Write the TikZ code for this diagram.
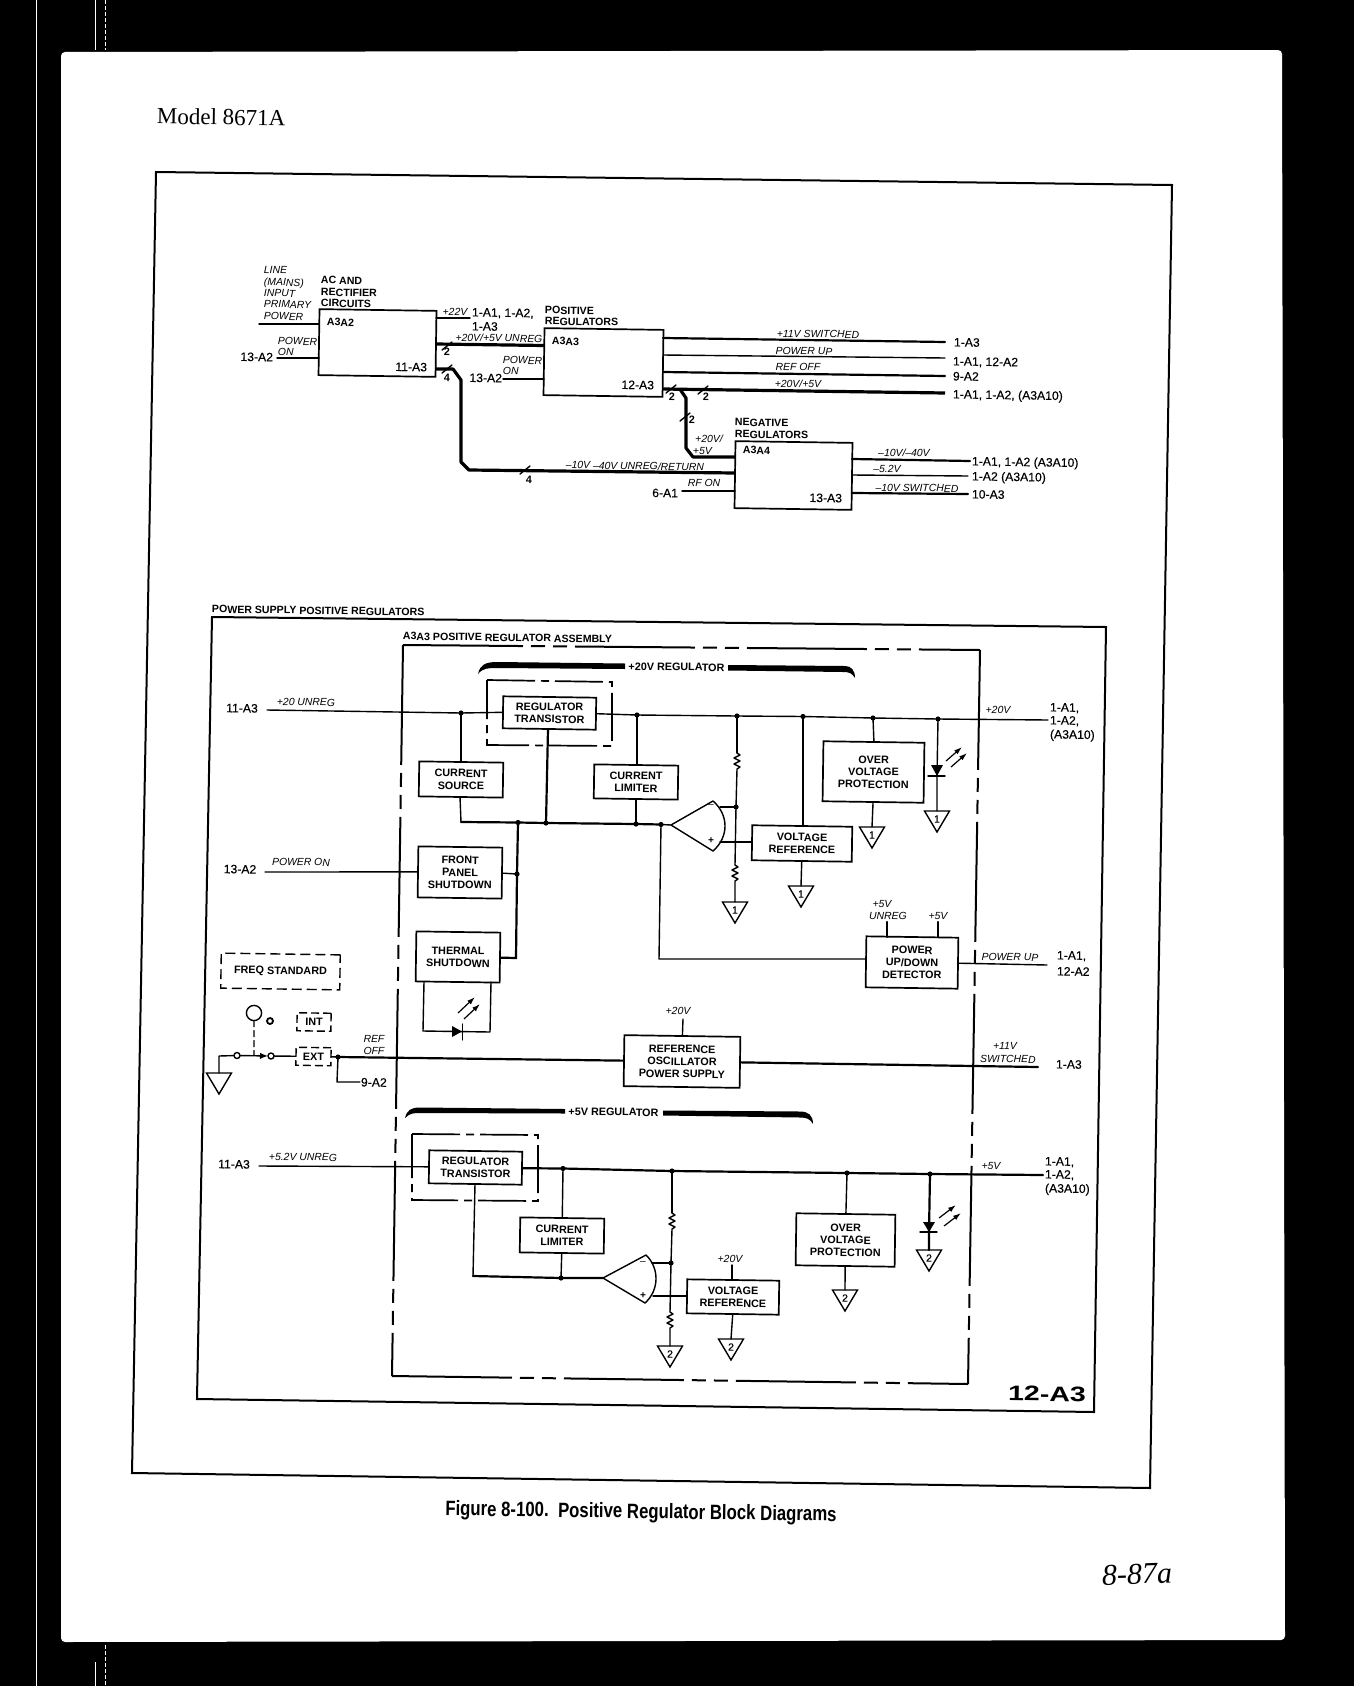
\documentclass[tikz,border=0pt]{standalone}
\usepackage{fontspec}
\usepackage{graphicx}
\setmainfont{Liberation Sans}
\newfontfamily\serfam{Liberation Serif}
\newfontfamily\medfam[FakeBold=0.3]{Liberation Sans}
\usetikzlibrary{arrows.meta,calc}
\newcommand\mybox[6]{%
  \pgfmathsetmacro\bw{(#4-#2)*0.5}\pgfmathsetmacro\bh{(#5-#3)*0.5}%
  \pgfmathsetmacro\bcx{(#2+#4)/2}\pgfmathsetmacro\bcy{(#3+#5)/2}%
  \node[box,minimum width=\bw pt,minimum height=\bh pt] (#1) at (\bcx,\bcy) {#6};}
\newcommand\jn[3]{\coordinate (#1) at (#2,#3); \fill (#1) circle (2.6);}
\newcommand\gnd[4]{\coordinate (#1) at (#2,#3);
  \draw[wire,line join=miter] ($(#1)+(-12.5,0)$) -- ($(#1)+(12.5,0)$) -- ($(#1)+(0,21)$) -- cycle;
  \node[gtext] (#1t) at ($(#1)+(0,8)$) {#4};}
\newcommand\res[2]{\draw[wire] (#1) -- ++(3,2) -- ++(-6,3) -- ++(6,3) -- ++(-6,3) -- ++(6,3) -- ++(-3,2) -- (#2);}
\newcommand\tickm[2]{\draw[wire] (#1-5,#2+4) -- (#1+5,#2-4);}
\begin{document}
\begin{tikzpicture}[x=0.5pt,y=-0.5pt,
  every node/.append style={rotate=-0.85,inner sep=0pt,outer sep=0pt},
  wire/.style={line width=0.7pt,line cap=round,line join=round},
  bus/.style={line width=1.6pt,line cap=butt,line join=round},
  mid/.style={line width=1.1pt,line cap=round},
  frame/.style={line width=1pt,line join=miter},
  box/.style={draw,line width=0.85pt,fill=white,align=center,font=\fontsize{5.4}{6.2}\selectfont\bfseries},
  gtext/.style={font=\fontsize{5.2}{6}\selectfont\medfam},
  heads/.style={font=\fontsize{5.3}{6}\selectfont\bfseries,text height=3.8pt,text depth=0pt},
  hw/.style={heads,anchor=west},
  itf/.style={font=\fontsize{5.2}{6}\selectfont\itshape,text height=3.7pt,text depth=0pt},
  itw/.style={itf,anchor=west},
  itc/.style={itf},
  rf/.style={font=\fontsize{6.1}{7}\selectfont\medfam,text height=4.4pt,text depth=0pt},
  rw/.style={rf,anchor=west},
  re/.style={rf,anchor=east},
  rc/.style={rf},
  pn/.style={font=\fontsize{5.4}{6}\selectfont\bfseries},
  long/.style={line width=1pt,dash pattern=on 60pt off 4pt on 7pt off 4pt on 7pt off 4pt},
  dashb/.style={line width=0.85pt,dash pattern=on 24pt off 3pt on 4pt off 3pt},
  dashs/.style={line width=0.7pt,dash pattern=on 5pt off 2.5pt},
  dashx/.style={line width=0.7pt,dash pattern=on 4pt off 2pt},
  light/.style={line width=0.6pt,-{Latex[length=4pt,width=2.6pt]}},
]
\useasboundingbox (0,0) rectangle (1354,1686);
% scanned page
\fill[black] (0,0) rectangle (1354,1686);
\fill[white,rounded corners=2pt] (61,52) -- (1282,50) -- (1285,1640) -- (61,1642) -- cycle;
\draw[white,line width=0.3pt] (36,0) -- (36,1686);
\draw[white,line width=0.5pt] (95,0) -- (95,50) (95,1662) -- (95,1686);
\draw[white,line width=0.3pt,dash pattern=on 2pt off 1pt] (105.5,0) -- (105.5,50) (105.5,1645) -- (105.5,1686);

\node[anchor=west,font=\fontsize{11.5}{13}\selectfont\serfam] (model) at (157,116) {Model 8671A};
\node[font=\fontsize{10.4}{12}\selectfont\bfseries] (caption) at (641,1513) {\scalebox{0.806}[1]{Figure 8-100.\ \ Positive Regulator Block Diagrams}};
\node[font=\fontsize{15}{16}\selectfont\serfam\itshape,rotate=3] (page) at (1137,1574) {8-87a};
\draw[frame] (156,172) -- (1172,185) -- (1150,1488) -- (132,1473) -- cycle;

% ---------- upper diagram
\mybox{aca}{319}{310}{436}{376}{}
\mybox{posr}{544}{329}{663}{396}{}
\mybox{negr}{735}{442}{852}{509}{}
\foreach \n/\x/\y/\t in {tl1/264/270/LINE,tl2/264/282/(MAINS),tl3/264/293/INPUT,tl4/264/304/PRIMARY,tl5/264/316/POWER,tl6/278/341/POWER,tl7/278/352/ON,tl8/503/360/POWER,tl9/503/371/ON,tl10/693/451/+5V}
  \node[itw] (\n) at (\x,\y) {\t};
\foreach \n/\x/\y/\t in {h1/321/280/AC AND,h2/321/292/RECTIFIER,h3/321/303/CIRCUITS,h4/327/322/A3A2,h5/545/310/POSITIVE,h6/545/321/REGULATORS,h7/552/341/A3A3,h8/735/422/NEGATIVE,h9/735/434/REGULATORS,h10/743/450/A3A4}
  \node[hw] (\n) at (\x,\y) {\t};
\node[itc] (c1) at (455,312) {+22V};
\node[itc] (c2) at (499,338) {+20V/+5V UNREG};
\node[itc] (c3) at (635,466) {--10V --40V UNREG/RETURN};
\node[itc] (c4) at (704,483) {RF ON};
\node[itc] (c5) at (818,334) {+11V SWITCHED};
\node[itc] (c6) at (804,351) {POWER UP};
\node[itc] (c7) at (798,367) {REF OFF};
\node[itc] (c8) at (798,384) {+20V/+5V};
\node[itc] (c9) at (709,439) {+20V/};
\node[itc] (c10) at (904,453) {--10V/--40V};
\node[itc] (c11) at (887,469) {--5.2V};
\node[itc] (c12) at (917,488) {--10V SWITCHED};
\node[re] (r1) at (273,357) {13-A2};
\node[rw] (r2) at (472,312) {1-A1, 1-A2,};
\node[rw] (r3) at (472,326) {1-A3};
\node[re] (r4) at (427,367) {11-A3};
\node[re] (r5) at (502,378) {13-A2};
\node[re] (r6) at (654,385) {12-A3};
\node[rw] (r7) at (954,342) {1-A3};
\node[rw] (r8) at (953,361) {1-A1, 12-A2};
\node[rw] (r9) at (953,376) {9-A2};
\node[rw] (r10) at (953,394) {1-A1, 1-A2, (A3A10)};
\node[re] (r11) at (678,493) {6-A1};
\node[rw] (r12) at (972,461) {1-A1, 1-A2 (A3A10)};
\node[rw] (r13) at (972,476) {1-A2 (A3A10)};
\node[rw] (r14) at (972,494) {10-A3};
\node[re] (r15) at (842,498) {13-A3};
\foreach \n/\x/\y/\t in {p1/447/352/2,p2/447/378/4,p3/529/480/4,p4/672/397/2,p5/706/397/2,p6/692/420/2}
  \node[pn] (\n) at (\x,\y) {\t};

\coordinate (pwr) at (259,324); \draw[wire] (pwr) -- (pwr -| aca.west);
\coordinate (ona) at (277,358); \draw[wire] (ona) -- (ona -| aca.west);
\coordinate (v22a) at (436,318); \coordinate (v22b) at (470,318); \draw[wire] (v22a) -- (v22b);
\coordinate (busa) at (436,344); \coordinate (busb) at (544,345.5); \draw[bus] (busa) -- (busb);
\coordinate (f1) at (436,369); \coordinate (f2) at (453,369); \coordinate (f3) at (461,380);
\coordinate (f4) at (461,462); \coordinate (f5) at (469,470); \coordinate (f6) at (735,473);
\draw[bus] (f1) -- (f2) -- (f3) -- (f4) -- (f5) -- (f6);
\coordinate (onb) at (503,379); \draw[wire] (onb) -- (onb -| posr.west);
\coordinate (s1) at (663,338); \coordinate (t1) at (945,342); \draw[mid] (s1) -- (t1);
\coordinate (s2) at (663,355); \coordinate (t2) at (945,358); \draw[wire] (s2) -- (t2);
\coordinate (s3) at (663,372); \coordinate (t3) at (945,376); \draw[mid] (s3) -- (t3);
\coordinate (s4) at (663,389); \coordinate (t4) at (945,393); \draw[bus] (s4) -- (t4);
\coordinate (b1) at (680,389.3); \coordinate (b2) at (686,398); \coordinate (b3) at (686,448);
\coordinate (b4) at (693,457); \coordinate (b5) at (735,457);
\draw[bus] (b1) -- (b2) -- (b3) -- (b4) -- (b5);
\coordinate (rfon) at (682,491); \draw[wire] (rfon) -- (rfon -| negr.west);
\coordinate (n1) at (852,459); \coordinate (m1) at (970,461); \draw[mid] (n1) -- (m1);
\coordinate (n2) at (852,475); \coordinate (m2) at (968,476); \draw[wire] (n2) -- (m2);
\coordinate (n3) at (852,493); \coordinate (m3) at (968,494); \draw[mid] (n3) -- (m3);
\tickm{447}{346}\tickm{447}{369}\tickm{525}{470}\tickm{671}{389}\tickm{703}{390}\tickm{685}{417}

% ---------- lower diagram
\draw[frame] (212,617) -- (1106,627) -- (1094,1412) -- (197,1399) -- cycle;
\node[hw] (title1) at (212,609) {POWER SUPPLY POSITIVE REGULATORS};
\node[hw] (title2) at (403,636) {A3A3 POSITIVE REGULATOR ASSEMBLY};
\node[font=\fontsize{10.5}{12}\selectfont\bfseries] (plate) at (1047,1394) {\scalebox{1.36}[1]{12-A3}};
\coordinate (asmA) at (403,645); \coordinate (asmB) at (980,650);
\coordinate (asmC) at (968,1384); \coordinate (asmD) at (392,1376);
\draw[long] (asmA) -- (asmB);\draw[long] (asmB) -- (asmC);\draw[long] (asmD) -- (asmC);\draw[long] (asmA) -- (asmD);

% brackets
\fill (478,674) .. controls (480,665) and (485,662) .. (497,662) -- (625,663.5) -- (625,669) -- (497,668) .. controls (488,668) and (483,668) .. (478,674) -- cycle;
\fill (728,665) -- (845,666) .. controls (851,666) and (855,670) .. (855,678) .. controls (852,673) and (849,672) .. (843,672) -- (728,670.5) -- cycle;
\fill (405,1118) .. controls (407,1110) and (411,1107.5) .. (420,1107.5) -- (565,1109) -- (565,1113.5) -- (420,1113) .. controls (414,1113) and (410,1113) .. (405,1118) -- cycle;
\fill (663,1110.5) -- (800,1111.5) .. controls (808,1111.5) and (813,1115) .. (813,1124) .. controls (810,1119) and (807,1117.5) .. (800,1117.5) -- (663,1115.5) -- cycle;
\node[pn] (brk1) at (676.5,667) {+20V REGULATOR};
\node[pn] (brk2) at (613.5,1112) {+5V REGULATOR};

% boxes
\draw[dashb] (487,680) -- (612,682) -- (612,746) -- (487,745) -- cycle;
\draw[dashb] (412,1134) -- (538,1135) -- (538,1201) -- (412,1200) -- cycle;
\mybox{rt1}{503}{697}{596}{729}{REGULATOR\\TRANSISTOR}
\mybox{cs}{419}{762}{503}{797}{CURRENT\\SOURCE}
\mybox{cl1}{594}{765}{678}{799}{CURRENT\\LIMITER}
\mybox{fp}{418}{847}{502}{898}{FRONT\\PANEL\\SHUTDOWN}
\mybox{ts}{416}{932}{500}{982}{THERMAL\\SHUTDOWN}
\mybox{vr1}{752}{826}{852}{861}{VOLTAGE\\REFERENCE}
\mybox{ov1}{823}{742}{924}{802}{OVER\\VOLTAGE\\PROTECTION}
\mybox{pud}{866}{937}{958}{988}{POWER\\UP/DOWN\\DETECTOR}
\mybox{ro}{624}{1036}{740}{1087}{REFERENCE\\OSCILLATOR\\POWER SUPPLY}
\mybox{rt2}{429}{1151}{522}{1184}{REGULATOR\\TRANSISTOR}
\mybox{cl2}{520}{1218}{604}{1253}{CURRENT\\LIMITER}
\mybox{vr2}{687}{1280}{779}{1314}{VOLTAGE\\REFERENCE}
\mybox{ov2}{796}{1214}{895}{1266}{OVER\\VOLTAGE\\PROTECTION}

% labels
\node[rc] (l1) at (242,708) {11-A3};
\node[itc] (l2) at (306,702) {+20 UNREG};
\node[rc] (l3) at (240,869) {13-A2};
\node[itc] (l4) at (301,862) {POWER ON};
\node[itc] (l5) at (998,710) {+20V};
\node[rw] (l6) at (1050,707) {1-A1,};
\node[rw] (l7) at (1050,720) {1-A2,};
\node[rw] (l8) at (1050,734) {(A3A10)};
\node[itc] (l9) at (882,904) {+5V};
\node[itc] (l10) at (888,916) {UNREG};
\node[itc] (l11) at (938,916) {+5V};
\node[itc] (l12) at (1010,957) {POWER UP};
\node[rw] (l13) at (1057,955) {1-A1,};
\node[rw] (l14) at (1057,971) {12-A2};
\node[itc] (l15) at (374,1039) {REF};
\node[itc] (l16) at (374,1051) {OFF};
\node[rw] (l17) at (361,1082) {9-A2};
\node[itc] (l18) at (678,1011) {+20V};
\node[itc] (l19) at (1005,1046) {+11V};
\node[itc] (l20) at (1008,1059) {SWITCHED};
\node[rw] (l21) at (1056,1064) {1-A3};
\node[rc] (l22) at (234,1164) {11-A3};
\node[itc] (l23) at (303,1157) {+5.2V UNREG};
\node[itc] (l24) at (991,1166) {+5V};
\node[rw] (l25) at (1045,1161) {1-A1,};
\node[rw] (l26) at (1045,1174) {1-A2,};
\node[rw] (l27) at (1045,1188) {(A3A10)};
\node[itc] (l28) at (730,1259) {+20V};

% +20V regulator wiring
\coordinate (in20) at (267,710);
\jn{ja}{461}{713}
\draw[wire] (in20) -- (ja) -- (rt1.west);
\draw[wire] (ja) -- (ja |- cs.north);
\jn{jb}{518}{822.5}\jn{jc}{546}{823}\jn{jd}{636}{824}\jn{je}{661}{824.5}
\coordinate (jcs) at (461,822);
\coordinate (csb) at (460,797);
\draw[wire] (csb) -- (jcs);
\draw[mid] (jcs) -- (jb) -- (jc) -- (jd) -- (je);
\coordinate (oat) at (671,825); \coordinate (oau) at (713,801); \coordinate (oal) at (713,851);
\draw[wire] (je) -- (oat);
\coordinate (rtb) at (548,729); \draw[mid] (rtb) -- (jc);
\jn{jf}{637}{715}\jn{jg}{737}{716}\jn{jh}{803}{716.5}\jn{ji}{873}{718}\jn{jj}{938}{719}
\coordinate (o20) at (1048,720);
\draw[wire] (rt1.east) -- (jf) -- (jg) -- (jh) -- (ji) -- (jj) -- (o20);
\draw[wire] (jf) -- (jf |- cl1.north);
\draw[wire] (jd |- cl1.south) -- (jd);
\coordinate (r1a) at (737,753); \jn{jk}{736}{807}
\draw[wire] (jg) -- (r1a);
\res{r1a}{jk}
\coordinate (r2a) at (735,865);
\draw[wire] (jk) -- (r2a);
\gnd{g1}{735}{902}{1}
\res{r2a}{g1}
\draw[wire,fill=white] (oat) -- (oau) .. controls (729,815) and (729,837) .. (oal) -- cycle;
\node[font=\fontsize{5}{6}\selectfont] (sgn1) at (711,806) {--};
\node[font=\fontsize{5}{6}\selectfont\bfseries] (sgn2) at (711,841) {+};
\coordinate (oam) at (720,807); \draw[wire] (oam) -- (jk);
\coordinate (oap) at (720,842); \draw[wire] (oap) -- (oap -| vr1.west);
\draw[wire] (jh) -- (jh |- vr1.north);
\gnd{g2}{801}{886}{1}
\draw[wire] (vr1.south) -- (g2);
\draw[wire] (ji) -- (ov1.north);
\gnd{g3}{872}{827}{1}
\draw[wire] (ov1.south) -- (g3);
\gnd{g4}{937}{811}{1}
\coordinate (led1) at (937,776);
\draw[wire] (jj) -- (led1) -- (g4);
\fill ($(led1)+(-6,-11)$) -- ($(led1)+(6,-11)$) -- (led1) -- cycle;
\draw[wire] ($(led1)+(-9,0)$) -- ($(led1)+(8,0)$);
\coordinate (la1) at (946,761); \coordinate (la2) at (962,747); \draw[light] (la1) -- (la2);
\coordinate (la3) at (951,767); \coordinate (la4) at (967,753); \draw[light] (la3) -- (la4);
% power up / down
\coordinate (pu1) at (659,959); \draw[wire] (je) -- (pu1) -- (pu1 -| pud.west);
\coordinate (pi1) at (887,922); \coordinate (pi2) at (938,922);
\draw[mid] (pi1) -- (pi1 |- pud.north); \draw[mid] (pi2) -- (pi2 |- pud.north);
\coordinate (puo) at (1047,965); \draw[wire] (pud.east) -- (puo);
% front panel, thermal
\coordinate (in13) at (265,872); \draw[wire] (in13) -- (fp.west);
\jn{jl}{517}{874}
\draw[wire] (fp.east) -- (jl);
\coordinate (ts1) at (516,958);
\draw[mid] (jb) -- (jl) -- (ts1) -- (ts.east);
\coordinate (tl) at (424,982); \coordinate (tl2) at (423,1031); \coordinate (tr2) at (490,1032); \coordinate (tr) at (491,982);
\draw[wire] (tl) -- (tl2) -- (tr2) -- (tr);
\fill (452,1026) -- (462,1031.5) -- (452,1037) -- cycle;
\draw[wire] (462.5,1024) -- (462.5,1040);
\coordinate (ta1) at (458,1013); \coordinate (ta2) at (475,997); \draw[light] (ta1) -- (ta2);
\coordinate (ta3) at (464,1019); \coordinate (ta4) at (480,1004); \draw[light] (ta3) -- (ta4);
% frequency standard and switch
\node[dashs,draw,minimum width=59.5pt,minimum height=17.5pt,font=\fontsize{5.4}{6}\selectfont\bfseries] (fs) at (280.5,971.5) {FREQ STANDARD};
\node[dashx,draw,minimum width=17pt,minimum height=9pt,font=\fontsize{5.4}{6}\selectfont\bfseries] (int) at (314,1022) {INT};
\node[dashx,draw,minimum width=17.5pt,minimum height=9pt,font=\fontsize{5.4}{6}\selectfont\bfseries] (ext) at (313.5,1056.5) {EXT};
\node[circle,draw,line width=0.7pt,minimum size=7.6pt] (knob) at (254,1013) {};
\node[circle,draw,line width=0.9pt,minimum size=3pt] (lamp) at (270,1021) {};
\gnd{g5}{219}{1073}{}
\coordinate (sg) at (219,1056);
\node[circle,draw,line width=0.7pt,fill=white,minimum size=3pt] (sw1) at (237,1055.5) {};
\node[circle,draw,line width=0.7pt,fill=white,minimum size=3pt] (sw2) at (271,1056) {};
\draw[wire] (g5) -- (sg) -- (sw1);
\draw[wire,-{Latex[length=4pt,width=3.2pt]}] (sw1) -- (sw2);
\draw[wire] (sw2) -- (ext.west);
\coordinate (kd) at (254,1055);
\draw[wire,dash pattern=on 3pt off 2pt] (knob) -- (kd);
\jn{jm}{338}{1057}
\draw[wire] (ext.east) -- (jm);
\draw[mid] (jm) -- (ro.west);
\coordinate (rb) at (337,1082); \coordinate (rb2) at (360,1082);
\draw[wire] (jm) -- (rb) -- (rb2);
\coordinate (ro20) at (683,1019); \draw[wire] (ro20) -- (ro.north);
\coordinate (o11) at (1038,1067); \draw[mid] (ro.east) -- (o11);
% +5V regulator wiring
\coordinate (in5) at (259,1166); \draw[wire] (in5) -- (rt2.west);
\jn{na}{563}{1168.5}\jn{nb}{672}{1171}\jn{nc}{847}{1173}\jn{nd}{930}{1174}
\coordinate (o5) at (1043,1175);
\draw[mid] (rt2.east) -- (na) -- (nb) -- (nc) -- (nd) -- (o5);
\draw[wire] (na) -- (cl2.north);
\coordinate (rtc) at (475,1184); \coordinate (rtd) at (473,1276);
\jn{ne}{561}{1278}
\coordinate (oat2) at (603,1278); \coordinate (oau2) at (646,1255); \coordinate (oal2) at (645,1303);
\draw[wire] (rtc) -- (rtd);
\draw[mid] (rtd) -- (ne) -- (oat2);
\draw[wire] (cl2.south) -- (ne);
\draw[wire,fill=white] (oat2) -- (oau2) .. controls (659.5,1268) and (659.5,1290) .. (oal2) -- cycle;
\node[font=\fontsize{5}{6}\selectfont] (sgn3) at (643,1263) {--};
\node[font=\fontsize{5}{6}\selectfont\bfseries] (sgn4) at (643,1296) {+};
\coordinate (r3a) at (672,1213); \jn{nf}{671}{1263}
\draw[wire] (nb) -- (r3a);
\res{r3a}{nf}
\coordinate (oam2) at (652,1263); \draw[wire] (oam2) -- (nf);
\coordinate (r4a) at (670,1312);
\draw[wire] (nf) -- (r4a);
\gnd{g6}{670}{1346}{2}
\res{r4a}{g6}
\coordinate (oap2) at (653,1296); \draw[wire] (oap2) -- (oap2 -| vr2.west);
\coordinate (vi) at (732,1265); \draw[wire] (vi) -- (vi |- vr2.north);
\gnd{g7}{731}{1339}{2}
\draw[wire] (vr2.south) -- (g7);
\draw[wire] (nc) -- (ov2.north);
\gnd{g8}{845}{1290}{2}
\draw[wire] (ov2.south) -- (g8);
\gnd{g9}{929}{1250}{2}
\coordinate (led2) at (929,1232);
\draw[mid] (nd) -- (led2) -- (g9);
\fill ($(led2)+(-6,-10)$) -- ($(led2)+(6,-10)$) -- (led2) -- cycle;
\draw[wire] ($(led2)+(-9,0)$) -- ($(led2)+(8,0)$);
\coordinate (lb1) at (939,1218); \coordinate (lb2) at (956,1205); \draw[light] (lb1) -- (lb2);
\coordinate (lb3) at (944,1226); \coordinate (lb4) at (961,1213); \draw[light] (lb3) -- (lb4);
\end{tikzpicture}
\end{document}
